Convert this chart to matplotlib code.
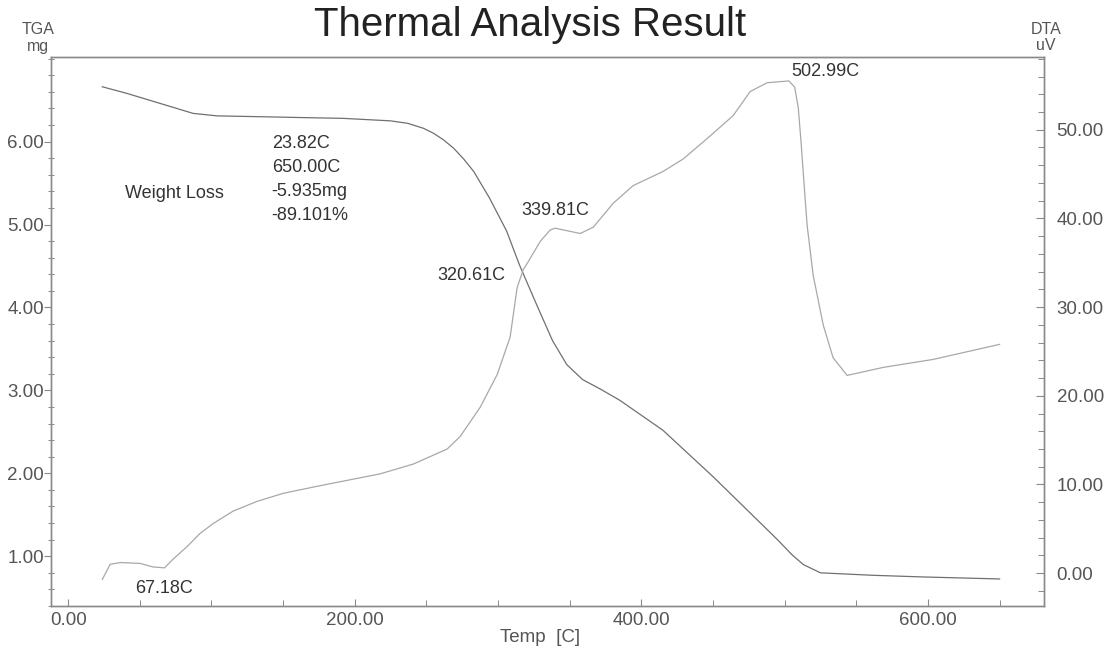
import numpy as np
import matplotlib
matplotlib.use("Agg")
import matplotlib.pyplot as plt
from matplotlib.ticker import MultipleLocator, FixedLocator, FormatStrFormatter

plt.rcParams['font.family'] = ['Liberation Sans', 'DejaVu Sans']

# TGA trace: temperature [C] vs weight [mg]
tga_temp = [23.82, 41.2, 64.2, 87.2, 104, 134, 162, 192, 225, 237, 248, 255, 262, 269, 276, 283,
            294, 306, 315, 327, 338, 348, 359, 372, 385, 415, 450, 495, 505, 513, 525, 562, 597, 650.0]
tga_mass = [6.661, 6.58, 6.46, 6.34, 6.31, 6.30, 6.29, 6.28, 6.25, 6.22, 6.16, 6.10, 6.02, 5.92, 5.79, 5.64,
            5.32, 4.92, 4.51, 4.03, 3.60, 3.31, 3.13, 3.01, 2.88, 2.52, 1.96, 1.20, 1.02, 0.90, 0.80, 0.77, 0.75, 0.726]

# DTA trace: temperature [C] vs signal [uV]
dta_temp = [23.82, 29.3, 36.3, 50.2, 59.3, 67.18, 73.3, 83.0, 92.1, 101.2, 115.1, 131.9, 150.0,
            173.8, 217.7, 240.8, 264.5, 273.5, 287.5, 299.4, 308.4, 313.3, 317.5, 320.61, 329.4,
            336.4, 339.81, 357.3, 366.4, 380.3, 394.3, 415.2, 429.2, 448.0, 464.1, 475.9, 487.8,
            502.99, 507.0, 509.5, 511.5, 513.5, 515.7, 519.9, 526.9, 533.8, 543.6, 568.7, 603.6, 650.0]
dta_uv = [-0.7, 1.0, 1.2, 1.1, 0.7, 0.6, 1.6, 3.0, 4.5, 5.6, 7.0, 8.1, 9.0,
          9.8, 11.2, 12.3, 14.0, 15.4, 18.7, 22.4, 26.6, 32.2, 34.2, 35.0, 37.4,
          38.7, 38.9, 38.3, 39.0, 41.7, 43.7, 45.3, 46.7, 49.3, 51.6, 54.3, 55.3,
          55.5, 54.8, 52.5, 48.5, 44.0, 39.2, 33.6, 28.0, 24.3, 22.3, 23.2, 24.1, 25.8]

# peak / onset labels: (text, temperature, uV position, alignment)
dta_marks = [("502.99C", 505, 56.6, 'left'),
             ("339.81C", 339.81, 40.9, 'center'),
             ("320.61C", 305, 33.6, 'right'),
             ("67.18C", 67.18, -1.7, 'center')]

loss_lines = ["23.82C", "650.00C", "-5.935mg", "-89.101%"]

W, H = 1115, 649
fig = plt.figure(figsize=(W / 100, H / 100), dpi=100)
ax = fig.add_axes([51 / W, 1 - 606 / H, (1044 - 51) / W, (606 - 57) / H])
ax2 = ax.twinx()

spine_c = '#8a8a8a'
lab_c = '#555555'

ax.plot(tga_temp, tga_mass, color='#707070', lw=0.9)
ax2.plot(dta_temp, dta_uv, color='#a8a8a8', lw=0.9)

ax.set_xlim(-12, 681)
ax.set_ylim(0.40, 7.02)
ax2.set_ylim(-3.7, 58.2)

ax.xaxis.set_major_locator(MultipleLocator(200))
ax.xaxis.set_minor_locator(MultipleLocator(50))
ax.yaxis.set_major_locator(FixedLocator([1, 2, 3, 4, 5, 6]))
ax.yaxis.set_minor_locator(MultipleLocator(0.2))
ax2.yaxis.set_major_locator(FixedLocator([0, 10, 20, 30, 40, 50]))
ax2.yaxis.set_minor_locator(MultipleLocator(2))
for a in (ax.xaxis, ax.yaxis, ax2.yaxis):
    a.set_major_formatter(FormatStrFormatter('%.2f'))

ax.tick_params(axis='x', direction='in', length=5, width=0.8, color=spine_c,
               labelsize=13.5, labelcolor=lab_c, pad=4)
ax.tick_params(axis='x', which='minor', direction='in', length=4, width=0.7, color=spine_c)
ax.tick_params(axis='y', direction='out', length=5, width=0.8, color=spine_c,
               labelsize=13.5, labelcolor=lab_c, pad=0)
ax.tick_params(axis='y', which='minor', direction='inout', length=4, width=0.7, color=spine_c)
ax2.tick_params(axis='y', direction='in', length=6, width=0.8, color=spine_c,
                labelsize=13.5, labelcolor=lab_c, pad=9)
ax2.tick_params(axis='y', which='minor', direction='in', length=4, width=0.7, color=spine_c)

for a in (ax, ax2):
    for s in a.spines.values():
        s.set_color(spine_c)
        s.set_linewidth(1.0)

# annotation text
txt_c = '#333333'
for label, t, v, ha in dta_marks:
    ax2.text(t, v, label, ha=ha, va='center', fontsize=13, color=txt_c)

ax.text(39.8, 5.38, "Weight Loss", ha='left', va='center', fontsize=13, color=txt_c)
for i, s in enumerate(loss_lines):
    ax.text(142, 5.98 - i * 0.29, s, ha='left', va='center', fontsize=13, color=txt_c)

fig.text(530 / W, 1 - 25 / H, "Thermal Analysis Result", ha='center', va='center',
         fontsize=29, color='#222222')
fig.text(38 / W, 1 - 30 / H, "TGA", ha='center', va='center', fontsize=11.5, color=lab_c)
fig.text(38 / W, 1 - 47 / H, "mg", ha='center', va='center', fontsize=11.5, color=lab_c)
fig.text(1046 / W, 1 - 30 / H, "DTA", ha='center', va='center', fontsize=11.5, color=lab_c)
fig.text(1046 / W, 1 - 46 / H, "uV", ha='center', va='center', fontsize=11.5, color=lab_c)
fig.text(540 / W, 1 - 637 / H, "Temp  [C]", ha='center', va='center', fontsize=13.5, color=lab_c)

fig.savefig("out.png", dpi=100)
